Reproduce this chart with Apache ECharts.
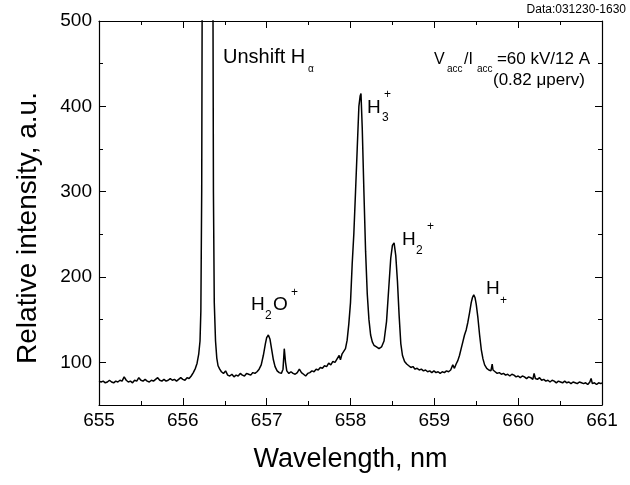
<!DOCTYPE html>
<html>
<head>
<meta charset="utf-8">
<script src="https://cdn.jsdelivr.net/npm/echarts@6/dist/echarts.min.js"></script>
<style>
  html, body { margin: 0; padding: 0; background: #fff; }
  #chart { width: 630px; height: 485px; }
</style>
</head>
<body>
<div id="chart"></div>
<script>
// 光谱数据 [波长 nm, 强度 a.u.]，按区段读取
const baseLeft = [
  [655.000, 78], [655.025, 77], [655.050, 78], [655.075, 76], [655.100, 77], [655.125, 79],
  [655.150, 77], [655.175, 76], [655.200, 78], [655.225, 77], [655.250, 79], [655.275, 78],
  [655.300, 83], [655.325, 79], [655.350, 77], [655.375, 78], [655.400, 76], [655.425, 79],
  [655.450, 78], [655.475, 82], [655.500, 79], [655.525, 78], [655.550, 80], [655.575, 78],
  [655.600, 77], [655.625, 79], [655.650, 78], [655.675, 80], [655.700, 82], [655.725, 79],
  [655.750, 78], [655.775, 80], [655.800, 78], [655.825, 79], [655.850, 81], [655.875, 79],
  [655.900, 80], [655.925, 78], [655.950, 80], [655.975, 82], [656.000, 80], [656.025, 79],
  [656.050, 82], [656.075, 81], [656.100, 84]
];
// 未位移 Hα（饱和，超出 500）
const hAlpha = [
  [656.125, 88], [656.150, 93], [656.170, 99], [656.190, 110], [656.205, 125], [656.215, 160],
  [656.225, 300], [656.235, 700], [656.300, 1500], [656.355, 700], [656.365, 300], [656.375, 170],
  [656.390, 125], [656.405, 105], [656.420, 96], [656.440, 92]
];
// H2O+ 区段
const h2oPart = [
  [656.460, 89], [656.485, 87], [656.510, 90], [656.535, 85], [656.560, 84], [656.585, 86],
  [656.610, 83], [656.635, 85], [656.660, 84], [656.685, 87], [656.710, 85], [656.735, 84],
  [656.760, 87], [656.785, 86], [656.810, 85], [656.835, 88], [656.860, 87], [656.885, 89],
  [656.910, 92], [656.935, 97], [656.960, 108], [656.985, 122], [657.000, 129], [657.020, 132],
  [657.040, 127], [657.060, 115], [657.080, 103], [657.100, 95], [657.125, 90], [657.150, 88],
  [657.175, 87], [657.195, 92], [657.210, 116], [657.225, 100], [657.240, 90], [657.265, 87],
  [657.290, 89], [657.315, 87], [657.340, 86], [657.365, 88], [657.390, 92], [657.415, 88],
  [657.440, 86], [657.465, 84], [657.490, 87], [657.515, 88], [657.540, 90], [657.565, 89],
  [657.590, 92], [657.615, 91], [657.640, 94], [657.665, 93], [657.690, 96], [657.715, 95],
  [657.740, 99], [657.765, 97], [657.790, 101], [657.815, 100], [657.840, 104], [657.865, 108],
  [657.880, 103], [657.900, 110], [657.920, 109], [657.940, 116], [657.960, 126], [657.980, 145]
];
// H3+ 与 H2+ 峰
const h3h2Part = [
  [658.000, 170], [658.020, 215], [658.040, 251], [658.060, 300], [658.080, 350], [658.100, 400],
  [658.115, 412], [658.125, 415], [658.140, 375], [658.160, 300], [658.180, 230], [658.200, 180],
  [658.220, 150], [658.240, 132], [658.260, 124], [658.280, 120], [658.310, 118], [658.340, 116],
  [658.370, 118], [658.400, 125], [658.430, 148], [658.455, 185], [658.480, 222], [658.500, 237],
  [658.520, 240], [658.540, 225], [658.560, 195], [658.580, 155], [658.600, 122], [658.620, 108],
  [658.645, 101], [658.670, 98], [658.695, 96], [658.720, 94], [658.745, 95], [658.770, 92],
  [658.795, 93], [658.820, 91], [658.845, 92], [658.870, 90], [658.895, 91], [658.920, 89],
  [658.945, 90], [658.970, 88], [658.995, 90], [659.020, 88], [659.045, 89], [659.070, 87],
  [659.095, 89], [659.120, 88], [659.145, 90], [659.170, 89], [659.195, 91], [659.220, 97],
  [659.240, 93]
];
// H+ 峰及右侧基线
const hPart = [
  [659.260, 98], [659.280, 102], [659.300, 108], [659.320, 116], [659.340, 124], [659.360, 132],
  [659.380, 138], [659.400, 147], [659.420, 158], [659.440, 170], [659.455, 176], [659.470, 179],
  [659.485, 176], [659.500, 168], [659.520, 152], [659.540, 132], [659.560, 115], [659.580, 104],
  [659.600, 97], [659.625, 93], [659.650, 91], [659.675, 90], [659.690, 98], [659.700, 91],
  [659.725, 89], [659.750, 87], [659.775, 88], [659.800, 86], [659.825, 87], [659.850, 85],
  [659.875, 86], [659.900, 84], [659.925, 86], [659.950, 85], [659.975, 83], [660.000, 84],
  [660.025, 82], [660.050, 84], [660.075, 83], [660.100, 81], [660.125, 83], [660.150, 82],
  [660.175, 80], [660.190, 87], [660.205, 81], [660.230, 80], [660.255, 82], [660.280, 79],
  [660.305, 80], [660.330, 78], [660.355, 79], [660.380, 77], [660.405, 79], [660.430, 78],
  [660.455, 76], [660.480, 78], [660.505, 77], [660.530, 76], [660.555, 78], [660.580, 76],
  [660.605, 77], [660.630, 75], [660.655, 77], [660.680, 76], [660.705, 75], [660.730, 77],
  [660.755, 76], [660.780, 75], [660.805, 76], [660.830, 74], [660.855, 77], [660.870, 81],
  [660.885, 75], [660.910, 76], [660.935, 74], [660.960, 76], [660.985, 75], [661.000, 76]
];
const yMajor = [100, 200, 300, 400, 500];
const yMinor = [150, 250, 350, 450];

const FONT = '"Liberation Sans", Arial, sans-serif';

let myChart = echarts.init(document.getElementById('chart'));

let seriesData = [].concat(baseLeft, hAlpha, h2oPart, h3h2Part, hPart);

// 文字标注
function txt(str, x, y, size, align) {
  return {
    type: 'text',
    x: x,
    y: y,
    style: {
      text: str,
      font: size + 'px ' + FONT,
      fill: '#000',
      align: align || 'left',
      verticalAlign: 'top'
    }
  };
}

let notes = [
  txt('Data:031230-1630', 626, 4, 12, 'right'),
  txt('Unshift H', 223, 47, 20),
  txt('α', 308, 64, 10),
  txt('H', 367, 98, 19),
  txt('3', 382, 112, 12),
  txt('+', 384, 89, 12),
  txt('H', 402, 230, 19),
  txt('2', 416, 245, 12),
  txt('+', 427, 221, 12),
  txt('H', 251, 295, 19),
  txt('2', 265, 310, 12),
  txt('O', 273, 295, 19),
  txt('+', 291, 287, 12),
  txt('H', 486, 279, 19),
  txt('+', 500, 295, 12),
  txt('V', 434, 52, 16),
  txt('acc', 447, 64, 10),
  txt('/I', 464, 52, 16),
  txt('acc', 477, 64, 10),
  txt('=60 kV/12 A', 590, 51, 17, 'right'),
  txt('(0.82 μperv)', 585, 72, 17, 'right')
];

const axisLine = { show: true, lineStyle: { color: '#000', width: 1.2 } };

let option = {
  animation: false,
  backgroundColor: '#fff',
  grid: { left: 99, right: 28, top: 21, bottom: 80 },
  xAxis: [
    {
      type: 'value', position: 'bottom', min: 655, max: 661, interval: 1,
      name: 'Wavelength, nm', nameLocation: 'middle', nameGap: 41,
      nameTextStyle: { fontFamily: FONT, fontSize: 27, color: '#000' },
      axisLine: axisLine,
      axisTick: { show: true, inside: true, length: 7, lineStyle: { color: '#000' } },
      minorTick: { show: true, splitNumber: 2, length: 4, lineStyle: { color: '#000' } },
      axisLabel: { fontFamily: FONT, fontSize: 19, color: '#000', margin: 6 },
      splitLine: { show: false }
    },
    {
      type: 'value', position: 'top', min: 655, max: 661, interval: 1,
      axisLine: axisLine,
      axisTick: { show: true, inside: true, length: 7, lineStyle: { color: '#000' } },
      minorTick: { show: true, splitNumber: 2, length: 4, lineStyle: { color: '#000' } },
      axisLabel: { show: false },
      splitLine: { show: false }
    }
  ],
  yAxis: [
    {
      type: 'value', position: 'left', min: 50, max: 500, interval: 50,
      name: 'Relative intensity, a.u.', nameLocation: 'middle', nameGap: 57,
      nameTextStyle: { fontFamily: FONT, fontSize: 28, color: '#000', padding: [0, 30, 0, 0] },
      axisLine: axisLine,
      axisTick: { show: true, inside: true, length: 7, customValues: yMajor, lineStyle: { color: '#000' } },
      axisLabel: { fontFamily: FONT, fontSize: 19, color: '#000', margin: 7, customValues: yMajor },
      splitLine: { show: false }
    },
    {
      type: 'value', position: 'right', min: 50, max: 500, interval: 50,
      axisLine: axisLine,
      axisTick: { show: true, inside: true, length: 7, customValues: yMajor, lineStyle: { color: '#000' } },
      axisLabel: { show: false },
      splitLine: { show: false }
    },
    {
      type: 'value', position: 'left', min: 50, max: 500, interval: 50,
      axisLine: { show: false },
      axisTick: { show: true, inside: true, length: 4, customValues: yMinor, lineStyle: { color: '#000' } },
      axisLabel: { show: false },
      splitLine: { show: false }
    },
    {
      type: 'value', position: 'right', min: 50, max: 500, interval: 50,
      axisLine: { show: false },
      axisTick: { show: true, inside: true, length: 4, customValues: yMinor, lineStyle: { color: '#000' } },
      axisLabel: { show: false },
      splitLine: { show: false }
    }
  ],
  series: [
    {
      type: 'line',
      data: seriesData,
      showSymbol: false,
      clip: true,
      lineStyle: { color: '#000', width: 1.5 }
    }
  ],
  graphic: notes
};

myChart.setOption(option);
</script>
</body>
</html>
